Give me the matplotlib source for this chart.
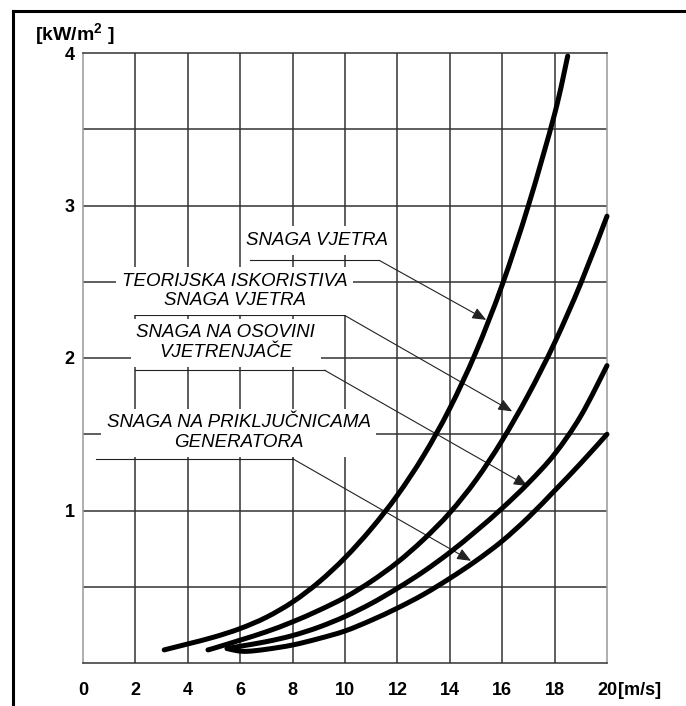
#importing the modules
import matplotlib.pyplot as plt
from matplotlib.lines import Line2D
from matplotlib.path import Path
from matplotlib.patches import PathPatch

#values (wind speed m/s, power kW/m2)
wind_v = [3.1, 4, 5, 6, 7, 8, 9, 10, 11, 12, 13, 14, 15, 16, 17, 18, 18.5]
wind_p = [0.086, 0.125, 0.17, 0.226, 0.30, 0.40, 0.53, 0.69, 0.88, 1.10, 1.36, 1.67, 2.04, 2.48, 3.0, 3.6, 3.98]

theo_v = [4.77, 5, 6, 7, 8, 9, 10, 11, 12, 13, 14, 15, 16, 17, 18, 19, 20]
theo_p = [0.086, 0.097, 0.15, 0.205, 0.27, 0.345, 0.43, 0.535, 0.66, 0.81, 0.985, 1.2, 1.46, 1.76, 2.1, 2.49, 2.93]

shaft_v = [5.5, 6, 7, 8, 9, 10, 11, 12, 13, 14, 15, 16, 17, 18, 19, 20]
shaft_p = [0.095, 0.11, 0.14, 0.18, 0.235, 0.305, 0.39, 0.49, 0.60, 0.725, 0.865, 1.015, 1.18, 1.37, 1.62, 1.95]

gen_v = [5.5, 5.9, 6.3, 7, 8, 9, 10, 11, 12, 13, 14, 15, 16, 17, 18, 19, 20]
gen_p = [0.095, 0.08, 0.077, 0.09, 0.118, 0.16, 0.21, 0.28, 0.36, 0.45, 0.555, 0.67, 0.80, 0.955, 1.13, 1.31, 1.5]

x_ticks = [0, 2, 4, 6, 8, 10, 12, 14, 16, 18, 20]
y_ticks = [1, 2, 3, 4]
grid_x = [2, 4, 6, 8, 10, 12, 14, 16, 18]
grid_y = [0.5, 1, 1.5, 2, 2.5, 3, 3.5]

#label text, where it sits, start/end of underline, arrow tip on the curve
label_txt = ["SNAGA VJETRA",
             "TEORIJSKA ISKORISTIVA\nSNAGA VJETRA",
             "SNAGA NA OSOVINI\nVJETRENJAČE",
             "SNAGA NA PRIKLJUČNICAMA\nGENERATORA"]
label_pos = [(8.95, 2.77), (5.79, 2.44), (5.45, 2.10), (5.94, 1.51)]
line_start = [(6.36, 2.64), (1.98, 2.28), (1.98, 1.92), (0.5, 1.34)]
line_corner = [(11.31, 2.64), (9.98, 2.28), (9.22, 1.92), (8.0, 1.34)]
arrow_tip = [(15.39, 2.25), (16.38, 1.65), (16.97, 1.16), (14.81, 0.67)]

plt.rcParams['mathtext.fontset'] = 'custom'
plt.rcParams['mathtext.rm'] = 'Liberation Sans:bold'
plt.rcParams['mathtext.default'] = 'rm'


#smooth curve through the read points (catmull-rom drawn as bezier pieces)
def smooth_path(xs, ys):
    pts = list(zip(xs, ys))
    verts = [pts[0]]
    codes = [Path.MOVETO]
    n = len(pts)
    for i in range(n - 1):
        p0 = pts[max(i - 1, 0)]
        p1 = pts[i]
        p2 = pts[i + 1]
        p3 = pts[min(i + 2, n - 1)]
        c1 = (p1[0] + (p2[0] - p0[0]) / 6, p1[1] + (p2[1] - p0[1]) / 6)
        c2 = (p2[0] - (p3[0] - p1[0]) / 6, p2[1] - (p3[1] - p1[1]) / 6)
        verts += [c1, c2, p2]
        codes += [Path.CURVE4] * 3
    return Path(verts, codes)


fig = plt.figure(figsize=(6.86, 7.06), dpi=100)
ax = fig.add_axes([83/686, 1-663/706, 524/686, 610/706])
ax.set_xlim(0, 20)
ax.set_ylim(0, 4)

#grid
ax.vlines(grid_x, 0, 4, color='#333333', lw=1.1, zorder=1)
ax.hlines(grid_y, 0, 20, color='#333333', lw=1.1, zorder=1)
for s in ['left', 'right']:
    ax.spines[s].set_color('#999999')
for s in ['top', 'bottom']:
    ax.spines[s].set_color('#333333')
for s in ax.spines:
    ax.spines[s].set_linewidth(1.1)

#curves
for v, p in [(wind_v, wind_p), (theo_v, theo_p), (shaft_v, shaft_p), (gen_v, gen_p)]:
    ax.add_patch(PathPatch(smooth_path(v, p), fill=False, ec='black', lw=3.6,
                           capstyle='round', joinstyle='round', zorder=4, clip_on=False))

#labels with leader lines
for txt, pos, a, b, tip in zip(label_txt, label_pos, line_start, line_corner, arrow_tip):
    ax.text(pos[0], pos[1], txt, ha='center', va='center', fontsize=13.5, style='italic',
            family='Liberation Sans', linespacing=1.2, zorder=3,
            bbox=dict(boxstyle='square,pad=0.3', fc='white', ec='none'))
    ax.plot([a[0], b[0]], [a[1], b[1]], color='#222222', lw=0.8, zorder=2)
    ax.annotate('', xy=tip, xytext=b,
                arrowprops=dict(arrowstyle='-|>,head_length=0.6,head_width=0.25', color='#222222',
                                lw=0.8, mutation_scale=14, shrinkA=0, shrinkB=0), zorder=2)

#ticks
ax.set_xticks(x_ticks)
ax.set_yticks(y_ticks)
ax.set_xticklabels([str(t) for t in x_ticks])
ax.set_yticklabels([str(t) for t in y_ticks])
ax.tick_params(length=0, labelsize=13)
ax.tick_params(axis='x', pad=14)
ax.tick_params(axis='y', pad=6)
for lab in ax.get_xticklabels() + ax.get_yticklabels():
    lab.set_fontweight('bold')
    lab.set_family('Liberation Sans')

ax.annotate('[m/s]', xy=(20, 0), xytext=(8, -14), textcoords='offset points', ha='left', va='top',
            fontsize=13, fontweight='bold', family='Liberation Sans', annotation_clip=False)
fig.text(75/686, 1-34/706, '[kW/m$^2$ ]', ha='center', va='center', fontsize=14, fontweight='bold',
         family='Liberation Sans')

#outer frame (left and top)
fig.add_artist(Line2D([13/686, 13/686], [0, 1-11/706], color='black', lw=2.2))
fig.add_artist(Line2D([13/686, 1], [1-11/706, 1-11/706], color='black', lw=2.2))

fig.savefig('out.png', dpi=100)
